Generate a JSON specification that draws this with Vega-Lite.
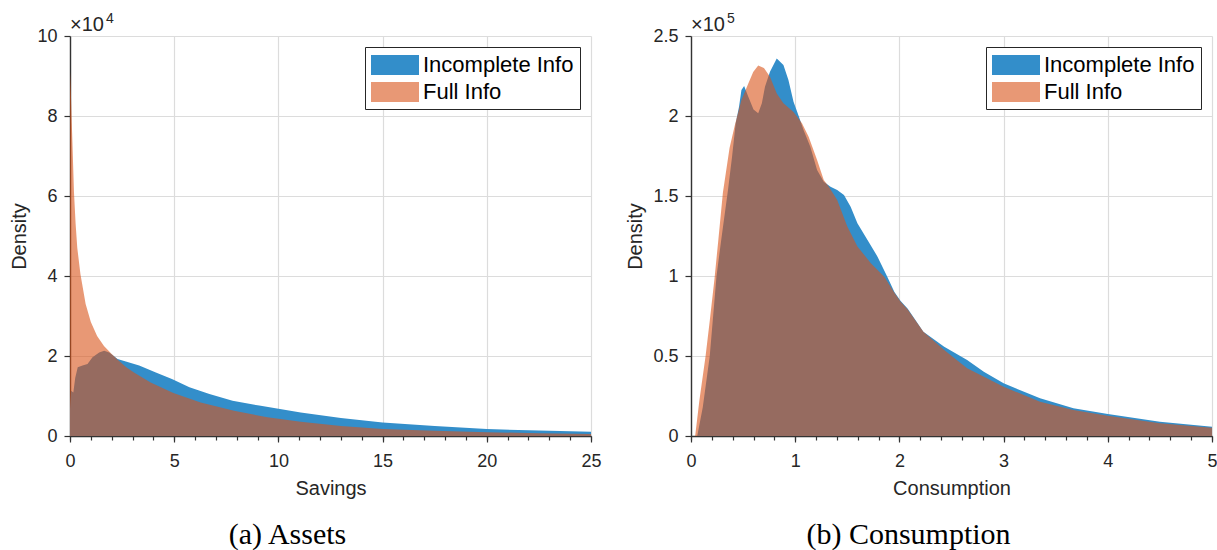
{
  "$schema": "https://vega.github.io/schema/vega-lite/v6.json",
  "background": "white",
  "padding": {"left": 9, "top": 12, "right": 5, "bottom": 2},
  "config": {
    "view": {"stroke": null},
    "font": "Liberation Sans",
    "axis": {
      "domainColor": "#333333",
      "domainWidth": 1.4,
      "tickColor": "#333333",
      "tickWidth": 1.2,
      "tickSize": 6,
      "gridColor": "#dcdcdc",
      "gridWidth": 1.2,
      "labelFont": "Liberation Sans",
      "labelFontSize": 18,
      "labelColor": "#262626",
      "labelPadding": 7,
      "labelFlush": false,
      "labelOverlap": false,
      "titleFont": "Liberation Sans",
      "titleFontSize": 20,
      "titleFontWeight": "normal",
      "titleColor": "#262626",
      "titlePadding": 7
    },
    "axisX": {"labelPadding": 10, "titlePadding": 8},
    "legend": {
      "orient": "top-right",
      "offset": 11,
      "title": null,
      "labelFont": "Liberation Sans",
      "labelFontSize": 22,
      "labelColor": "#000000",
      "labelLimit": 400,
      "symbolType": "M-1,-0.84H3V0.84H-1Z",
      "symbolSize": 576,
      "symbolStrokeWidth": 0,
      "labelOffset": 28,
      "rowPadding": 4,
      "padding": 6,
      "strokeColor": "#262626",
      "fillColor": "white",
      "cornerRadius": 0
    },
    "title": {
      "orient": "bottom",
      "anchor": "middle",
      "frame": "group",
      "font": "Liberation Serif",
      "fontSize": 30,
      "fontWeight": "normal",
      "color": "#000000",
      "offset": 22,
      "dx": -43
    }
  },
  "datasets": {
    "assets": [
      {"series": "Incomplete Info", "x": 0, "density": 6750},
      {"series": "Incomplete Info", "x": 0.05, "density": 11300},
      {"series": "Incomplete Info", "x": 0.16, "density": 10900},
      {"series": "Incomplete Info", "x": 0.25, "density": 14500},
      {"series": "Incomplete Info", "x": 0.37, "density": 17200},
      {"series": "Incomplete Info", "x": 0.6, "density": 17600},
      {"series": "Incomplete Info", "x": 0.84, "density": 18000},
      {"series": "Incomplete Info", "x": 1.08, "density": 19700},
      {"series": "Incomplete Info", "x": 1.4, "density": 20900},
      {"series": "Incomplete Info", "x": 1.64, "density": 21300},
      {"series": "Incomplete Info", "x": 1.88, "density": 20900},
      {"series": "Incomplete Info", "x": 2.1, "density": 20000},
      {"series": "Incomplete Info", "x": 2.28, "density": 19250},
      {"series": "Incomplete Info", "x": 2.68, "density": 18600},
      {"series": "Incomplete Info", "x": 3.32, "density": 17600},
      {"series": "Incomplete Info", "x": 4.12, "density": 15900},
      {"series": "Incomplete Info", "x": 4.89, "density": 14250},
      {"series": "Incomplete Info", "x": 5.73, "density": 12200},
      {"series": "Incomplete Info", "x": 6.69, "density": 10500},
      {"series": "Incomplete Info", "x": 7.8, "density": 8800},
      {"series": "Incomplete Info", "x": 9.08, "density": 7600},
      {"series": "Incomplete Info", "x": 11.07, "density": 5900},
      {"series": "Incomplete Info", "x": 13, "density": 4500},
      {"series": "Incomplete Info", "x": 15, "density": 3400},
      {"series": "Incomplete Info", "x": 17.5, "density": 2500},
      {"series": "Incomplete Info", "x": 20, "density": 1750},
      {"series": "Incomplete Info", "x": 22.5, "density": 1350},
      {"series": "Incomplete Info", "x": 25, "density": 1075},
      {"series": "Full Info", "x": 0, "density": 91000},
      {"series": "Full Info", "x": 0.04, "density": 86000},
      {"series": "Full Info", "x": 0.1, "density": 76000},
      {"series": "Full Info", "x": 0.19, "density": 61000},
      {"series": "Full Info", "x": 0.27, "density": 53000},
      {"series": "Full Info", "x": 0.35, "density": 47000},
      {"series": "Full Info", "x": 0.5, "density": 40500},
      {"series": "Full Info", "x": 0.75, "density": 33000},
      {"series": "Full Info", "x": 1.0, "density": 28500},
      {"series": "Full Info", "x": 1.3, "density": 25000},
      {"series": "Full Info", "x": 1.63, "density": 22500},
      {"series": "Full Info", "x": 2.0, "density": 20500},
      {"series": "Full Info", "x": 2.3, "density": 19000},
      {"series": "Full Info", "x": 2.7, "density": 17200},
      {"series": "Full Info", "x": 3.07, "density": 15900},
      {"series": "Full Info", "x": 3.87, "density": 13400},
      {"series": "Full Info", "x": 4.96, "density": 10750},
      {"series": "Full Info", "x": 6.27, "density": 8400},
      {"series": "Full Info", "x": 7.87, "density": 6300},
      {"series": "Full Info", "x": 9.47, "density": 4700},
      {"series": "Full Info", "x": 11.07, "density": 3550},
      {"series": "Full Info", "x": 13, "density": 2500},
      {"series": "Full Info", "x": 15, "density": 1750},
      {"series": "Full Info", "x": 17.5, "density": 1300},
      {"series": "Full Info", "x": 20, "density": 950},
      {"series": "Full Info", "x": 22.5, "density": 700},
      {"series": "Full Info", "x": 25, "density": 500}
    ],
    "consumption": [
      {"series": "Incomplete Info", "x": 0.06, "density": 0},
      {"series": "Incomplete Info", "x": 0.113, "density": 18000},
      {"series": "Incomplete Info", "x": 0.18, "density": 50000},
      {"series": "Incomplete Info", "x": 0.245, "density": 100000},
      {"series": "Incomplete Info", "x": 0.29, "density": 122500},
      {"series": "Incomplete Info", "x": 0.355, "density": 153800},
      {"series": "Incomplete Info", "x": 0.394, "density": 174600},
      {"series": "Incomplete Info", "x": 0.429, "density": 195400},
      {"series": "Incomplete Info", "x": 0.461, "density": 205800},
      {"series": "Incomplete Info", "x": 0.484, "density": 216300},
      {"series": "Incomplete Info", "x": 0.51, "density": 218800},
      {"series": "Incomplete Info", "x": 0.55, "density": 212000},
      {"series": "Incomplete Info", "x": 0.6, "density": 204000},
      {"series": "Incomplete Info", "x": 0.645, "density": 201700},
      {"series": "Incomplete Info", "x": 0.68, "density": 208000},
      {"series": "Incomplete Info", "x": 0.71, "density": 218300},
      {"series": "Incomplete Info", "x": 0.758, "density": 227700},
      {"series": "Incomplete Info", "x": 0.823, "density": 236000},
      {"series": "Incomplete Info", "x": 0.887, "density": 231900},
      {"series": "Incomplete Info", "x": 0.935, "density": 222500},
      {"series": "Incomplete Info", "x": 0.984, "density": 208900},
      {"series": "Incomplete Info", "x": 1.03, "density": 200600},
      {"series": "Incomplete Info", "x": 1.08, "density": 191300},
      {"series": "Incomplete Info", "x": 1.145, "density": 180800},
      {"series": "Incomplete Info", "x": 1.21, "density": 166300},
      {"series": "Incomplete Info", "x": 1.274, "density": 158900},
      {"series": "Incomplete Info", "x": 1.339, "density": 155800},
      {"series": "Incomplete Info", "x": 1.403, "density": 153800},
      {"series": "Incomplete Info", "x": 1.468, "density": 150600},
      {"series": "Incomplete Info", "x": 1.532, "density": 143300},
      {"series": "Incomplete Info", "x": 1.597, "density": 132900},
      {"series": "Incomplete Info", "x": 1.694, "density": 122500},
      {"series": "Incomplete Info", "x": 1.79, "density": 112100},
      {"series": "Incomplete Info", "x": 1.887, "density": 99000},
      {"series": "Incomplete Info", "x": 1.952, "density": 90000},
      {"series": "Incomplete Info", "x": 2.01, "density": 84500},
      {"series": "Incomplete Info", "x": 2.08, "density": 79500},
      {"series": "Incomplete Info", "x": 2.23, "density": 65200},
      {"series": "Incomplete Info", "x": 2.43, "density": 55800},
      {"series": "Incomplete Info", "x": 2.65, "density": 47500},
      {"series": "Incomplete Info", "x": 2.81, "density": 40200},
      {"series": "Incomplete Info", "x": 3.0, "density": 32900},
      {"series": "Incomplete Info", "x": 3.35, "density": 23600},
      {"series": "Incomplete Info", "x": 3.67, "density": 17300},
      {"series": "Incomplete Info", "x": 4.0, "density": 13750},
      {"series": "Incomplete Info", "x": 4.5, "density": 8900},
      {"series": "Incomplete Info", "x": 5.0, "density": 5800},
      {"series": "Full Info", "x": 0.04, "density": 0},
      {"series": "Full Info", "x": 0.08, "density": 22000},
      {"series": "Full Info", "x": 0.14, "density": 50000},
      {"series": "Full Info", "x": 0.18, "density": 72000},
      {"series": "Full Info", "x": 0.225, "density": 98000},
      {"series": "Full Info", "x": 0.26, "density": 121000},
      {"series": "Full Info", "x": 0.306, "density": 152000},
      {"series": "Full Info", "x": 0.37, "density": 180000},
      {"series": "Full Info", "x": 0.42, "density": 194000},
      {"series": "Full Info", "x": 0.484, "density": 210000},
      {"series": "Full Info", "x": 0.548, "density": 220000},
      {"series": "Full Info", "x": 0.597, "density": 227500},
      {"series": "Full Info", "x": 0.645, "density": 231500},
      {"series": "Full Info", "x": 0.7, "density": 230000},
      {"series": "Full Info", "x": 0.758, "density": 224500},
      {"series": "Full Info", "x": 0.823, "density": 214000},
      {"series": "Full Info", "x": 0.887, "density": 208000},
      {"series": "Full Info", "x": 0.984, "density": 202500},
      {"series": "Full Info", "x": 1.065, "density": 195500},
      {"series": "Full Info", "x": 1.129, "density": 187000},
      {"series": "Full Info", "x": 1.21, "density": 172500},
      {"series": "Full Info", "x": 1.274, "density": 160000},
      {"series": "Full Info", "x": 1.323, "density": 155800},
      {"series": "Full Info", "x": 1.403, "density": 147500},
      {"series": "Full Info", "x": 1.5, "density": 131000},
      {"series": "Full Info", "x": 1.597, "density": 118500},
      {"series": "Full Info", "x": 1.726, "density": 108000},
      {"series": "Full Info", "x": 1.855, "density": 99500},
      {"series": "Full Info", "x": 1.952, "density": 89500},
      {"series": "Full Info", "x": 2.01, "density": 84000},
      {"series": "Full Info", "x": 2.08, "density": 79000},
      {"series": "Full Info", "x": 2.23, "density": 65200},
      {"series": "Full Info", "x": 2.43, "density": 53700},
      {"series": "Full Info", "x": 2.65, "density": 42300},
      {"series": "Full Info", "x": 3.0, "density": 30800},
      {"series": "Full Info", "x": 3.35, "density": 21400},
      {"series": "Full Info", "x": 3.67, "density": 16250},
      {"series": "Full Info", "x": 4.0, "density": 12700},
      {"series": "Full Info", "x": 4.5, "density": 7900},
      {"series": "Full Info", "x": 5.0, "density": 5200}
    ]
  },
  "spacing": 100,
  "bounds": "flush",
  "resolve": {
    "scale": {"color": "independent", "x": "independent", "y": "independent"},
    "legend": {"color": "independent"}
  },
  "hconcat": [
    {
      "width": 521,
      "height": 400,
      "title": {"text": "(a) Assets"},
      "data": {"name": "assets"},
      "resolve": {"axis": {"x": "independent", "y": "independent"}},
      "layer": [
        {
          "transform": [{"filter": "datum.series === 'Incomplete Info'"}],
          "mark": {"type": "area", "interpolate": "linear"},
          "encoding": {
            "x": {"field": "x", "type": "quantitative",
              "scale": {"domain": [0, 25], "nice": false, "zero": false},
              "axis": {"orient": "bottom", "values": [0, 5, 10, 15, 20, 25], "grid": true, "title": "Savings"}},
            "y": {"field": "density", "type": "quantitative", "stack": null,
              "scale": {"domain": [0, 100000], "nice": false},
              "axis": {"orient": "left", "values": [0, 20000, 40000, 60000, 80000, 100000], "grid": true,
                "labelExpr": "format(datum.value / 10000, '~g')", "title": "Density"}},
            "color": {"field": "series", "type": "nominal",
              "scale": {"domain": ["Incomplete Info", "Full Info"], "range": ["#338ECA", "#D95319"]},
              "legend": {"encode": {"symbols": {"update": {"opacity": {"signal": "datum.value === 'Full Info' ? 0.6 : 1"}}}}}}
          }
        },
        {
          "transform": [{"filter": "datum.series === 'Full Info'"}],
          "mark": {"type": "area", "interpolate": "linear", "opacity": 0.6},
          "encoding": {
            "x": {"field": "x", "type": "quantitative",
              "axis": {"orient": "bottom", "values": [0,1,2,3,4,5,6,7,8,9,10,11,12,13,14,15,16,17,18,19,20,21,22,23,24,25],
                "labels": false, "domain": false, "grid": false, "tickSize": 4, "title": null}},
            "y": {"field": "density", "type": "quantitative", "stack": null, "axis": null},
            "color": {"field": "series", "type": "nominal",
              "legend": {"encode": {"symbols": {"update": {"opacity": {"signal": "datum.value === 'Full Info' ? 0.6 : 1"}}}}}}
          }
        },
        {
          "data": {"values": [{}]},
          "mark": {"type": "text", "text": "×10", "align": "left", "baseline": "alphabetic", "dy": -5, "fontSize": 20, "font": "Liberation Sans", "color": "#262626"},
          "encoding": {
            "x": {"datum": 0, "type": "quantitative", "axis": null},
            "y": {"datum": 100000, "type": "quantitative", "axis": null}
          }
        },
        {
          "data": {"values": [{}]},
          "mark": {"type": "text", "text": "4", "align": "left", "baseline": "alphabetic", "dx": 36, "dy": -13, "fontSize": 14, "font": "Liberation Sans", "color": "#262626"},
          "encoding": {
            "x": {"datum": 0, "type": "quantitative", "axis": null},
            "y": {"datum": 100000, "type": "quantitative", "axis": null}
          }
        }
      ]
    },
    {
      "width": 521,
      "height": 400,
      "title": {"text": "(b) Consumption"},
      "data": {"name": "consumption"},
      "resolve": {"axis": {"x": "independent", "y": "independent"}},
      "layer": [
        {
          "transform": [{"filter": "datum.series === 'Incomplete Info'"}],
          "mark": {"type": "area", "interpolate": "linear"},
          "encoding": {
            "x": {"field": "x", "type": "quantitative",
              "scale": {"domain": [0, 5], "nice": false, "zero": false},
              "axis": {"orient": "bottom", "values": [0, 1, 2, 3, 4, 5], "grid": true, "title": "Consumption"}},
            "y": {"field": "density", "type": "quantitative", "stack": null,
              "scale": {"domain": [0, 250000], "nice": false},
              "axis": {"orient": "left", "values": [0, 50000, 100000, 150000, 200000, 250000], "grid": true,
                "labelExpr": "format(datum.value / 100000, '~g')", "title": "Density"}},
            "color": {"field": "series", "type": "nominal",
              "scale": {"domain": ["Incomplete Info", "Full Info"], "range": ["#338ECA", "#D95319"]},
              "legend": {"encode": {"symbols": {"update": {"opacity": {"signal": "datum.value === 'Full Info' ? 0.6 : 1"}}}}}}
          }
        },
        {
          "transform": [{"filter": "datum.series === 'Full Info'"}],
          "mark": {"type": "area", "interpolate": "linear", "opacity": 0.6},
          "encoding": {
            "x": {"field": "x", "type": "quantitative",
              "axis": {"orient": "bottom", "values": [0,0.2,0.4,0.6,0.8,1,1.2,1.4,1.6,1.8,2,2.2,2.4,2.6,2.8,3,3.2,3.4,3.6,3.8,4,4.2,4.4,4.6,4.8,5],
                "labels": false, "domain": false, "grid": false, "tickSize": 4, "title": null}},
            "y": {"field": "density", "type": "quantitative", "stack": null, "axis": null},
            "color": {"field": "series", "type": "nominal",
              "legend": {"encode": {"symbols": {"update": {"opacity": {"signal": "datum.value === 'Full Info' ? 0.6 : 1"}}}}}}
          }
        },
        {
          "data": {"values": [{}]},
          "mark": {"type": "text", "text": "×10", "align": "left", "baseline": "alphabetic", "dy": -5, "fontSize": 20, "font": "Liberation Sans", "color": "#262626"},
          "encoding": {
            "x": {"datum": 0, "type": "quantitative", "axis": null},
            "y": {"datum": 250000, "type": "quantitative", "axis": null}
          }
        },
        {
          "data": {"values": [{}]},
          "mark": {"type": "text", "text": "5", "align": "left", "baseline": "alphabetic", "dx": 36, "dy": -13, "fontSize": 14, "font": "Liberation Sans", "color": "#262626"},
          "encoding": {
            "x": {"datum": 0, "type": "quantitative", "axis": null},
            "y": {"datum": 250000, "type": "quantitative", "axis": null}
          }
        }
      ]
    }
  ]
}
